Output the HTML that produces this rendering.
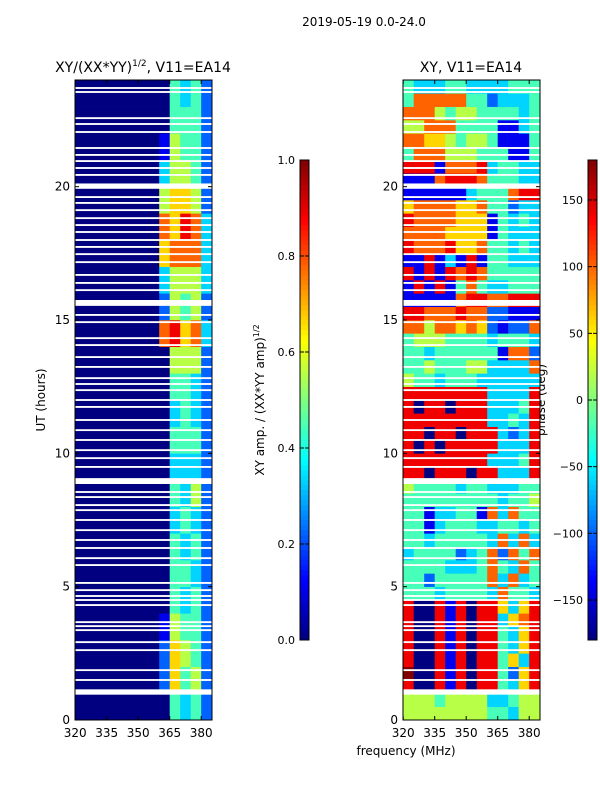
<!DOCTYPE html>
<html><head><meta charset="utf-8"><style>
html,body{margin:0;padding:0;background:#fff;}
svg text{font-family:"DejaVu Sans","Liberation Sans",sans-serif;}
</style></head><body>
<svg id="fig" width="600" height="800" viewBox="0 0 600 800" xmlns="http://www.w3.org/2000/svg">
<rect width="600" height="800" fill="#fff"/>
<text x="364" y="26" font-size="12" text-anchor="middle">2019-05-19 0.0-24.0</text>
<text x="143" y="72" font-size="14" text-anchor="middle">XY/(XX*YY)<tspan font-size="9" dy="-6">1/2</tspan><tspan dy="6">, V11=EA14</tspan></text>
<text x="471" y="72" font-size="14" text-anchor="middle">XY, V11=EA14</text>
<text x="406" y="755" font-size="12" text-anchor="middle">frequency (MHz)</text>
<text transform="translate(45,400) rotate(-90)" font-size="12" text-anchor="middle">UT (hours)</text>
<text transform="translate(264,400) rotate(-90)" font-size="12" text-anchor="middle">XY amp. / (XX*YY amp)<tspan font-size="8" dy="-5">1/2</tspan></text>
<text transform="translate(545,400) rotate(-90)" font-size="12" text-anchor="middle">phase (deg)</text>
<g id="left"></g>
<g id="right"></g>
<g id="axes"></g>
</svg>
<script>
const freqEdges=[320,325,330,335,340,345,350,355,360,365,370,375,380,385];
const xTicks=[320,335,350,365,380];
const yTicks=[0,5,10,15,20];
const ampTicks=[0.0,0.2,0.4,0.6,0.8,1.0];
const phaseTicks=[-150,-100,-50,0,50,100,150];
// amplitude grid: 24 hourly rows (bottom-up), digit/9 = amp
const ampRows=["0000000004342","0000000026452","0000000026542","0000000015442","0000000004342","0000000004432","0000000004342","0000000003432","0000000004352","0000000003332","0000000004442","0000000003432","0000000004432","0000000005552","0000000078673","0000000025452","0000000035553","0000000067773","0000000076873","0000000056652","0000000035542","0000000015442","0000000004442","0000000004342"];
// phase grid: 48 half-hour rows (bottom-up), digit/9 of range -180..180
const phaseRows=["5555555544355","5554555533455","8008180884368","9008180884268","8008180884638","8008180884368","8008180884368","8008180883678","8008180886368","4443444437443","4424444473734","4444333474374","3444423472747","4434444437373","4413444334434","4413344173744","4444444443445","5444434433344","8808880883338","8888888833348","8080888883338","8808808883238","8888888833438","8088088833348","8888888833338","5443444333333","4454445533337","4434444441772","4555444434443","7757767621227","8877787722111","1111178877888","1818147433444","8181878744444","1181318144333","8777866744343","7777666614333","8777766614343","6777766744233","1111113444788","1117888744433","8881777834433","4777555444114","7766545541114","5577744441134","7775455444434","4777774423334","4333443333444"];
// flagged (blanked) times in hours
const flagHours=[23.7,23.55,22.57,22.35,22.05,21.45,21.19,20.96,20.7,20.44,20.02,19.61,19.39,19.12,18.82,18.56,18.3,18.0,17.74,17.47,17.17,16.69,16.39,16.12,15.64,15.19,14.92,14.32,14.06,13.61,13.24,12.82,12.6,12.37,12.0,11.74,11.25,10.87,10.5,10.12,9.82,9.49,8.96,8.55,8.36,8.06,7.87,7.5,7.12,6.75,6.45,6.07,5.81,5.14,4.87,4.65,4.5,4.31,3.67,3.52,3.37,2.92,2.62,1.87,1.5,1.05];
const flagWidths=[0.07,0.07,0.07,0.07,0.07,0.07,0.07,0.07,0.07,0.07,0.2,0.07,0.07,0.07,0.07,0.07,0.07,0.07,0.07,0.07,0.07,0.07,0.07,0.07,0.22,0.07,0.07,0.07,0.07,0.07,0.07,0.07,0.07,0.07,0.07,0.07,0.07,0.07,0.07,0.07,0.07,0.07,0.22,0.07,0.07,0.07,0.07,0.07,0.07,0.07,0.07,0.07,0.07,0.07,0.07,0.07,0.07,0.07,0.07,0.07,0.07,0.07,0.07,0.07,0.07,0.2];

const NS="http://www.w3.org/2000/svg";
function jet(v){v=Math.max(0,Math.min(1,v));
 const c=x=>Math.round(255*Math.max(0,Math.min(1,x)));
 const r=1.5-Math.abs(4*v-3),g=1.5-Math.abs(4*v-2),b=1.5-Math.abs(4*v-1);
 return `rgb(${c(r)},${c(g)},${c(b)})`;}
const panels=[{x0:75,id:"left"},{x0:403,id:"right"}];
const yTop=80,yBot=720,hMax=24;
function yS(h){return yBot-(h/hMax)*(yBot-yTop);}
function xS(p,f){return p.x0+(f-320)*2.1+0.2;}
function mk(parent,tag,attrs){const e=document.createElementNS(NS,tag);for(const k in attrs)e.setAttribute(k,attrs[k]);parent.appendChild(e);return e;}

function drawGrid(p,rows,hoursPerRow){
 const g=document.getElementById(p.id);
 rows.forEach((row,ri)=>{
  for(let ci=0;ci<row.length;ci++){
   const v=parseInt(row[ci])/9;
   const x1=xS(p,freqEdges[ci]),x2=xS(p,freqEdges[ci+1]);
   const y1=yS((ri+1)*hoursPerRow),y2=yS(ri*hoursPerRow);
   const r=mk(g,"rect",{x:x1,y:y1,width:x2-x1+0.3,height:y2-y1+0.3,fill:jet(v)});
   
   
  }
 });
 flagHours.forEach((h,i)=>{
  const w=flagWidths[i];
  const r=mk(g,"rect",{x:p.x0,y:yS(h+w/2),width:137,height:yS(h-w/2)-yS(h+w/2),fill:"#fff"});
  
  
 });
}
drawGrid(panels[0],ampRows,1);
drawGrid(panels[1],phaseRows,0.5);

const ax=document.getElementById("axes");
panels.forEach(p=>{
 const f=mk(ax,"rect",{x:p.x0,y:yTop,width:137,height:yBot-yTop,fill:"none",stroke:"#000","stroke-width":1});
 
 
 xTicks.forEach(t=>{const x=xS(p,t);
  mk(ax,"line",{x1:x,x2:x,y1:yBot,y2:yBot-4,stroke:"#000"});
  mk(ax,"line",{x1:x,x2:x,y1:yTop,y2:yTop+4,stroke:"#000"});
  const tx=mk(ax,"text",{x:x,y:yBot+17,"font-size":12,"text-anchor":"middle"});tx.textContent=t;
  
  
 });
 yTicks.forEach(t=>{const y=yS(t);
  mk(ax,"line",{x1:p.x0,x2:p.x0+4,y1:y,y2:y,stroke:"#000"});
  mk(ax,"line",{x1:p.x0+137,x2:p.x0+133,y1:y,y2:y,stroke:"#000"});
  const tx=mk(ax,"text",{x:p.x0-5,y:y+4,"font-size":12,"text-anchor":"end"});tx.textContent=t;
  
  
 });
});
// colorbars
function colorbar(x,ticks,lo,hi,fmt,name){
 const g=mk(ax,"g",{});
 
 
 const n=96;
 for(let i=0;i<n;i++){const y=640-(i+1)*480/n;
  mk(g,"rect",{x:x,y:y,width:9,height:480/n+0.4,fill:jet((i+0.5)/n)});}
 mk(g,"rect",{x:x,y:160,width:9,height:480,fill:"none",stroke:"#000"});
 ticks.forEach(t=>{const y=640-(t-lo)/(hi-lo)*480;
  mk(g,"line",{x1:x,x2:x+4,y1:y,y2:y,stroke:"#000"});
  mk(g,"line",{x1:x+9,x2:x+5,y1:y,y2:y,stroke:"#000"});
  const tx=mk(g,"text",{x:x-5,y:y+4,"font-size":11,"text-anchor":"end"});tx.textContent=fmt(t);
  
  
 });
}
colorbar(300,ampTicks,0,1,t=>t.toFixed(1),"amp-colorbar");
colorbar(588,phaseTicks,-180,180,t=>t<0?"\u2212"+(-t):String(t),"phase-colorbar");
</script>
</body></html>
